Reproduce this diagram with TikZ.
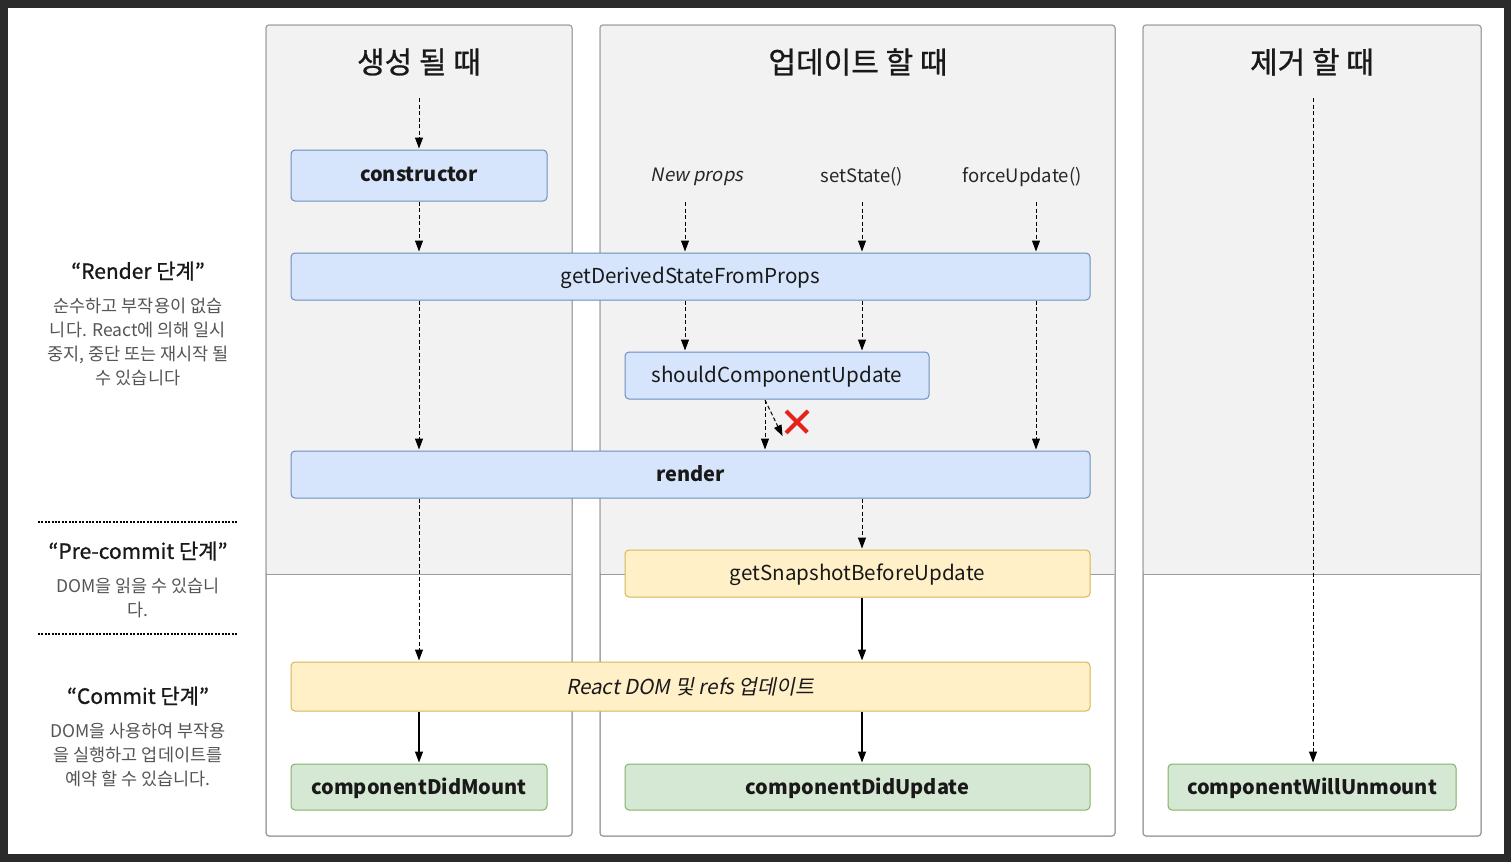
\documentclass[tikz,border=0pt]{standalone}
\usepackage{fontspec}
\setmainfont{Noto Sans CJK KR}[AutoFakeSlant=0.2]
\newfontfamily\headfont{Noto Sans CJK KR}[FakeBold=0.9]
\usepackage{tikz}
\usetikzlibrary{arrows,arrows.meta,shapes.misc}
\definecolor{framegray}{HTML}{2B2B2B}
\definecolor{lanegray}{HTML}{F2F2F2}
\definecolor{laneline}{HTML}{9A9A9A}
\definecolor{bluefill}{HTML}{D6E5FB}
\definecolor{blueline}{HTML}{6C8EBF}
\definecolor{yellowfill}{HTML}{FFF0C8}
\definecolor{yellowline}{HTML}{D6B656}
\definecolor{greenfill}{HTML}{D5E8D4}
\definecolor{greenline}{HTML}{82B366}
\definecolor{desctext}{HTML}{555555}
\definecolor{stopred}{HTML}{E5231B}
\tikzset{box/.style={rectangle,rounded corners=4pt,line width=1pt,inner sep=0pt,
    font=\fontsize{20.6}{24}\selectfont,text=black!90,text depth=2pt},
  bluebox/.style={box,fill=bluefill,draw=blueline},
  yellowbox/.style={box,fill=yellowfill,draw=yellowline},
  greenbox/.style={box,fill=greenfill,draw=greenline},
}

\begin{document}
\begin{tikzpicture}[x=1pt,y=-1pt,->,>={Triangle[length=11pt,width=8pt]},shorten >=1pt,thick,
    lane/.style={draw=laneline,line width=1pt,rounded corners=3pt},
    lanetitle/.style={font=\headfont\fontsize{30}{34}\selectfont,text=black!90},
    phasehead/.style={font=\headfont\fontsize{21}{24}\selectfont,text=black!90},
    phasedesc/.style={font=\fontsize{17.5}{24}\selectfont,text=desctext,align=center},
    phaseline/.style={-,line width=2.2pt,dash pattern=on 2pt off 1.4pt},
    trigger/.style={font=\fontsize{18.5}{20}\selectfont,text=black!85},
    dashline/.style={dash pattern=on 4pt off 2.5pt,line width=1pt},
    solidline/.style={line width=1.2pt}]

% frame
\fill[framegray] (0,0) rectangle (1511,862);
\fill[white] (8,8) rectangle (1504,854);

% lanes
\foreach \l/\r in {266/572,600/1115,1143/1481}{
  \fill[white,lane] (\l,25) rectangle (\r,836);
  \fill[lanegray,rounded corners=3pt] (\l,574) -- (\l,25) -- (\r,25) -- (\r,574) -- cycle;
  \draw[-,draw=laneline,line width=1pt] (\l,574) -- (\r,574);
  \draw[lane,-] (\l,25) rectangle (\r,836);
}
\node[lanetitle] (mount) at (419,62) {생성 될 때};
\node[lanetitle] (update) at (858,62) {업데이트 할 때};
\node[lanetitle] (unmount) at (1312,62) {제거 할 때};

% phases
\node[phasehead] (renderhead) at (138,271) {“Render 단계”};
\node[phasedesc,anchor=north] (renderdesc) at (138,294) {순수하고 부작용이 없습\\니다. React에 의해 일시\\중지, 중단 또는 재시작 될\\수 있습니다};
\draw[phaseline] (38,522) -- (238,522);
\node[phasehead] (prehead) at (138,551) {“Pre-commit 단계”};
\node[phasedesc,anchor=north] (predesc) at (138,574) {DOM을 읽을 수 있습니\\다.};
\draw[phaseline] (38,634) -- (238,634);
\node[phasehead] (commithead) at (138,696) {“Commit 단계”};
\node[phasedesc,anchor=north] (commitdesc) at (138,719) {DOM을 사용하여 부작용\\을 실행하고 업데이트를\\예약 할 수 있습니다.};

% methods
\node[bluebox,minimum width=256,minimum height=51] (ctor) at (419,175.5) {\fontsize{20}{24}\selectfont\bfseries constructor};
\node[bluebox,minimum width=799,minimum height=47] (gdsfp) at (690.5,276.5) {getDerivedStateFromProps};
\node[bluebox,minimum width=304,minimum height=47] (scu) at (777,375.5) {shouldComponentUpdate};
\node[bluebox,minimum width=799,minimum height=47] (render) at (690.5,474.5) {\fontsize{20}{24}\selectfont\bfseries render};
\node[yellowbox,minimum width=465,minimum height=47] (snap) at (857.5,573.5) {getSnapshotBeforeUpdate};
\node[yellowbox,minimum width=799,minimum height=49] (domup) at (690.5,686.5) {\itshape React DOM 및 refs 업데이트};
\node[greenbox,minimum width=256,minimum height=46] (didmount) at (419,787) {\fontsize{20}{24}\selectfont\bfseries componentDidMount};
\node[greenbox,minimum width=465,minimum height=46] (didupdate) at (857.5,787) {\fontsize{20}{24}\selectfont\bfseries componentDidUpdate};
\node[greenbox,minimum width=288,minimum height=46] (willunmount) at (1312,787) {\fontsize{20}{24}\selectfont\bfseries componentWillUnmount};

% triggers
\node[trigger] (newprops) at (697,177) {\itshape New props};
\node[trigger] (setstate) at (862,177) {setState()};
\node[trigger] (force) at (1022,177) {forceUpdate()};
\coordinate (c1) at (419,98);
\coordinate (np) at (685,202);
\coordinate (ss) at (862,202);
\coordinate (fu) at (1036,202);
\coordinate (skip) at (765,400);
\coordinate (c3) at (1313,98);
\node[draw=stopred,cross out,line width=4pt,minimum size=18pt,inner sep=0pt] (stop) at (797,422) {};

% mount
\path[dashline]
  (c1) edge (ctor)
  (ctor) edge (gdsfp.north -| c1)
  (gdsfp.south -| c1) edge (render.north -| c1)
  (render.south -| c1) edge (domup.north -| c1);
\draw[solidline] (domup.south -| c1) -- (didmount);

% update
\path[dashline]
  (np) edge (gdsfp.north -| np)
  (ss) edge (gdsfp.north -| ss)
  (fu) edge (gdsfp.north -| fu)
  (gdsfp.south -| np) edge (scu.north -| np)
  (gdsfp.south -| ss) edge (scu.north -| ss)
  (gdsfp.south -| fu) edge (render.north -| fu)
  (skip) edge (render.north -| skip)
  (skip) edge ([xshift=-3pt,yshift=-4pt]stop.south west)
  (render.south -| ss) edge (snap.north -| ss);
\path[solidline]
  (snap.south -| ss) edge (domup.north -| ss)
  (domup.south -| ss) edge (didupdate.north -| ss);

% unmount
\draw[dashline] (c3) -- (willunmount.north -| c3);
\end{tikzpicture}
\end{document}
